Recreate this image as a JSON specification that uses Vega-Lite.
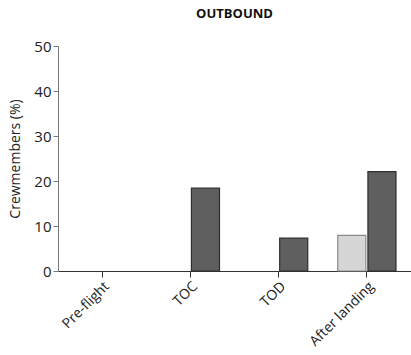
{
  "$schema": "https://vega.github.io/schema/vega-lite/v6.json",
  "autosize": "none",
  "padding": {"left": 58, "top": 46, "right": 0, "bottom": 84},
  "width": 353,
  "height": 225,
  "background": "white",
  "title": {
    "text": "OUTBOUND",
    "font": "Open Sans",
    "fontSize": 13,
    "fontWeight": "bold",
    "color": "#111",
    "anchor": "middle",
    "offset": 18
  },
  "data": {
    "values": [
      {"phase": "Pre-flight", "series": "Series 1", "pct": 0},
      {"phase": "Pre-flight", "series": "Series 2", "pct": 0},
      {"phase": "TOC", "series": "Series 1", "pct": 0},
      {"phase": "TOC", "series": "Series 2", "pct": 18.4},
      {"phase": "TOD", "series": "Series 1", "pct": 0},
      {"phase": "TOD", "series": "Series 2", "pct": 7.3},
      {"phase": "After landing", "series": "Series 1", "pct": 7.9},
      {"phase": "After landing", "series": "Series 2", "pct": 22.1}
    ]
  },
  "mark": {"type": "bar", "strokeWidth": 1.2},
  "encoding": {
    "x": {
      "field": "phase",
      "type": "nominal",
      "sort": ["Pre-flight", "TOC", "TOD", "After landing"],
      "scale": {"paddingInner": 0.34, "paddingOuter": 0.17},
      "axis": {
        "title": null,
        "labelAngle": -45,
        "labelFont": "Open Sans",
        "labelFontSize": 14,
        "labelColor": "#222",
        "domainColor": "#333",
        "tickColor": "#333",
        "tickSize": 6,
        "labelPadding": 2
      }
    },
    "xOffset": {
      "field": "series",
      "type": "nominal",
      "scale": {"paddingInner": 0.07, "paddingOuter": 0}
    },
    "y": {
      "field": "pct",
      "type": "quantitative",
      "scale": {"domain": [0, 50], "nice": false},
      "axis": {
        "title": "Crewmembers (%)",
        "titleFont": "Open Sans",
        "titleFontSize": 14,
        "titleFontWeight": "normal",
        "titleColor": "#222",
        "titlePadding": 11,
        "values": [0, 10, 20, 30, 40, 50],
        "grid": false,
        "labelFont": "Open Sans",
        "labelFontSize": 15,
        "labelColor": "#222",
        "domainColor": "#777",
        "tickColor": "#777",
        "tickSize": 5,
        "labelPadding": 2
      }
    },
    "fill": {
      "field": "series",
      "type": "nominal",
      "scale": {"range": ["#d6d6d6", "#5f5f5f"]},
      "legend": null
    },
    "stroke": {
      "field": "series",
      "type": "nominal",
      "scale": {"range": ["#8a8a8a", "#2e2e2e"]},
      "legend": null
    },
    "strokeOpacity": {
      "condition": {"test": "datum.pct <= 0", "value": 0},
      "value": 1
    }
  },
  "config": {"view": {"stroke": null}}
}
